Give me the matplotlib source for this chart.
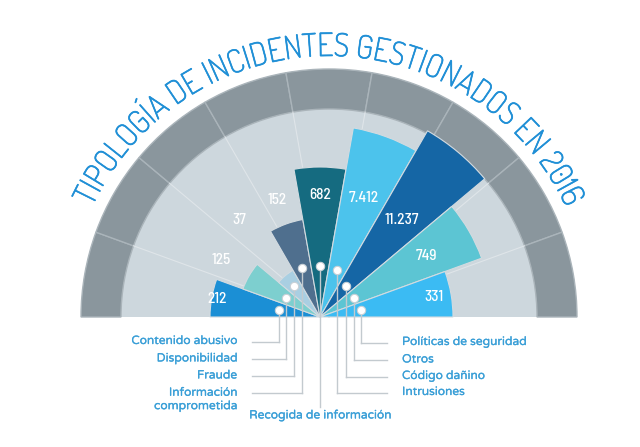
import numpy as np
import matplotlib
matplotlib.use("Agg")
import matplotlib.pyplot as plt
import matplotlib.patheffects as pe
from matplotlib import font_manager
from matplotlib.font_manager import FontProperties
from matplotlib.ft2font import FT2Font

# ---- data ----
categories = ['Contenido abusivo', 'Disponibilidad', 'Fraude',
              'Información\ncomprometida', 'Recogida de información',
              'Intrusiones', 'Código dañino', 'Otros', 'Políticas de seguridad']
incidents = [212, 125, 37, 152, 682, 7412, 11237, 749, 331]
# drawn wedge lengths (the designer's radii are not proportional to the counts)
wedge_len = [110, 82, 54, 99, 150, 192, 215, 172, 133]
colors = ['#1b8fd5', '#7dcfcf', '#a9cfe2', '#4f6f8e', '#156b80',
          '#4cc3ec', '#1566a5', '#5cc5d3', '#3bbbf3']
title = 'TIPOLOGÍA DE INCIDENTES GESTIONADOS EN 2016'

W, H = 640, 447
fig = plt.figure(figsize=(W / 100, H / 100), dpi=100)
fig.patch.set_facecolor('white')

names = {f.name for f in font_manager.fontManager.ttflist}


def pick(prefs):
    for p in prefs:
        if p in names:
            return p
    return 'DejaVu Sans'


title_font = pick(['Dosis', 'Roboto Condensed', 'Archivo Narrow', 'Liberation Sans Narrow'])
num_font = pick(['Barlow Semi Condensed', 'Barlow Condensed', 'Roboto Condensed'])
label_font = pick(['Varela Round', 'Lato'])


def polar_axes(cx, cy, R, z):
    ax = fig.add_axes([(cx - R) / W, (H - cy - R) / H, 2 * R / W, 2 * R / H],
                      projection='polar', zorder=z)
    ax.set_ylim(0, R)
    ax.axis('off')
    ax.patch.set_alpha(0)
    return ax


# background half disc (sits a few px right of the wedges' centre)
R_out, R_light = 248, 208
ax_bg = polar_axes(329, 317, 300, 1)
sector = np.deg2rad(20)
theta = np.deg2rad(np.arange(170, 0, -20))
ax_bg.bar(np.pi / 2, R_light, width=np.pi, color='#cdd7dd', linewidth=0)
ax_bg.bar(theta, R_out - R_light, width=sector, bottom=R_light,
          color='#8a969d', edgecolor='#aab4ba', linewidth=1)
for a in np.deg2rad(np.arange(20, 180, 20)):
    ax_bg.plot([a, a], [0, R_light], color='#dfe5e9', lw=0.8)

# wedges
ax = polar_axes(320, 317, 300, 2)
ax.bar(theta, wedge_len, width=sector, color=colors,
       edgecolor='#d3dbe0', linewidth=0.8)
lab_r = [104, 114, 126, 124, 122, 127, 127, 123, 116]
for t, v, r in zip(theta, incidents, lab_r):
    ax.text(t, r, f'{v:,}'.replace(',', '.'), ha='center', va='center',
            color='white', fontsize=11, family=num_font, weight='medium')

# overlay in pixel coordinates: leaders, labels, curved title
ov = fig.add_axes([0, 0, 1, 1], zorder=3)
ov.set_xlim(0, W)
ov.set_ylim(H, 0)
ov.axis('off')
ov.patch.set_alpha(0)

cx, cy = 320, 317
dot_r = [42, 39, 40, 52, 51, 50, 40, 39, 42]
row_y = [341.5, 359, 376, 392.5, 407, 392.5, 376.5, 360, 342.5]
side = ['L', 'L', 'L', 'L', 'C', 'R', 'R', 'R', 'R']
line_c = '#c3cacf'
txt_c = '#3a9fd7'
lab_fs = 8.6
for t, r, y, s, name in zip(theta, dot_r, row_y, side, categories):
    x0 = cx + r * np.cos(t)
    y0 = cy - r * np.sin(t)
    ov.plot([x0, x0], [y0, y], color=line_c, lw=1, zorder=1)
    kw = dict(va='center', color=txt_c, fontsize=lab_fs, family=label_font,
              path_effects=[pe.withStroke(linewidth=0.15, foreground=txt_c)])
    if s == 'L':
        ov.plot([x0, 252], [y, y], color=line_c, lw=1)
        yy = y + 7.5 if '\n' in name else y
        ov.text(237, yy, name, ha='right', linespacing=1.3, **kw)
    elif s == 'R':
        ov.plot([x0, 387], [y, y], color=line_c, lw=1)
        ov.text(402, y, name, ha='left', **kw)
    else:
        ov.text(x0, y + 9, name, ha='center', **kw)
    ov.plot(x0, y0, 'o', ms=6, mfc='white', mec='#c8d0d6', mew=0.8, zorder=4)

# curved title: characters placed along an arc round the background centre
tcx, tcy, r_base = 329, 317, 261
title_c = '#1f8fd6'
fp = FontProperties(family=title_font, size=23, weight='medium')
ft = FT2Font(font_manager.findfont(fp))
ft.set_size(23, 72)


def advance(ch):
    g = ft.load_char(ord(ch))
    return g.linearHoriAdvance / 65536


widths = [advance(c) for c in title]
edges = np.concatenate([[0], np.cumsum(widths)])
centres = (edges[:-1] + edges[1:]) / 2
a0, a1 = 153.5, 26.5
for i, ch in enumerate(title):
    if ch == ' ':
        continue
    f = (centres[i] - centres[0]) / (centres[-1] - centres[0])
    ang = np.deg2rad(a0 - f * (a0 - a1))
    ov.text(tcx + r_base * np.cos(ang), tcy - r_base * np.sin(ang), ch,
            rotation=np.rad2deg(ang) - 90, rotation_mode='anchor',
            ha='center', va='baseline', color=title_c, fontproperties=fp,
            path_effects=[pe.withStroke(linewidth=0.5, foreground=title_c)])

plt.savefig('out.png', dpi=100, facecolor='white')
